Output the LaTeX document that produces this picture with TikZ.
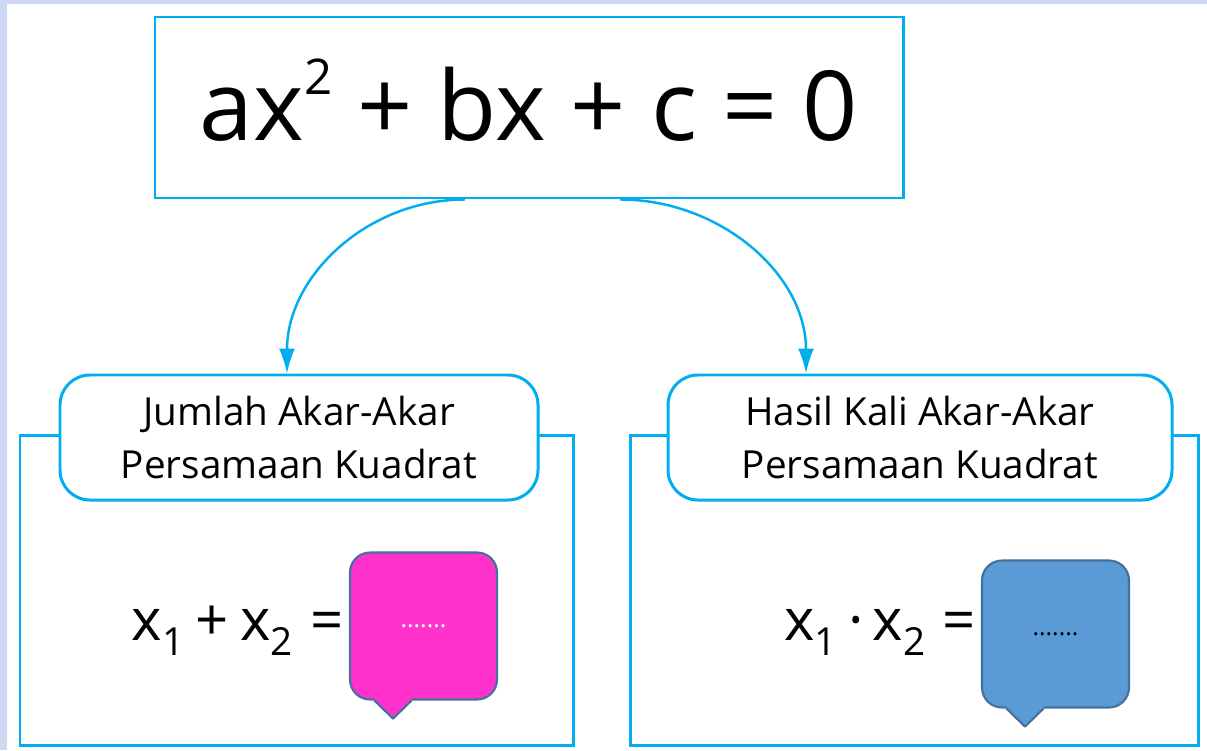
\documentclass[tikz,border=0pt]{standalone}
\usepackage{fontspec}
\setmainfont{Open Sans}
\usetikzlibrary{arrows.meta}

\definecolor{lineblue}{HTML}{00AEEF}
\definecolor{bgblue}{HTML}{CDD7F3}
\definecolor{callpink}{HTML}{FF33CC}
\definecolor{callblue}{HTML}{5B9BD5}
\definecolor{calledge}{HTML}{41719C}

\newcommand{\lowsub}[1]{\raisebox{-0.26em}{\fontsize{22}{22}\selectfont #1}}
\newcommand{\highsup}[1]{\raisebox{0.47em}{\fontsize{28}{28}\selectfont #1}}

\begin{document}
\begin{tikzpicture}[x = 0.2mm, y = -0.2mm,
	frame/.style = {draw = lineblue, line width = 1.7pt},
	link/.style = {-{Latex[length = 5mm, width = 3.2mm]}, lineblue, line width = 1.4pt},
	titlebox/.style = {frame, fill = white, rounded corners = 6mm, minimum height = 25mm, align = center, font = \fontsize{22}{30}\selectfont},
	callbox/.style = {draw = calledge, line width = 1.2pt, rounded corners = 4mm, minimum width = 29.4mm, minimum height = 29.4mm, font = \fontsize{14}{14}\selectfont},
	sumtext/.style = {anchor = base east, inner sep = 0pt, font = \fontsize{33}{36}\selectfont}]

	% Background
	
	\fill [bgblue] (0, 0) rectangle (1207, 750);
	\fill [white] (7, 4) rectangle (1207, 750);
	\useasboundingbox (0, 0) rectangle (1207, 750);
	
	% Panels
	
	\draw [frame] (20, 435) rectangle (573, 745);
	\draw [frame] (630, 435) rectangle (1198, 745);
	
	% Titles
	
	\node [titlebox, minimum width = 95.6mm] (sumtitle) at (299, 437.5) {Jumlah Akar-Akar\\Persamaan Kuadrat};
	\node [titlebox, minimum width = 100.8mm] (prodtitle) at (920, 437.5) {Hasil Kali Akar-Akar\\Persamaan Kuadrat};
	
	% Equation
	
	\node [frame, minimum width = 149.6mm, minimum height = 36.2mm, text depth = 3.2mm, font = \fontsize{55}{60}\selectfont] (eq) at (529, 107.5) {ax\highsup{2} + bx + c = 0};
	
	\draw [link] ([shift = {(-64, 0)}] eq.south) to [out = 180, in = 90] ([shift = {(-12, 0)}] sumtitle.north);
	\draw [link] ([shift = {(91, 0)}] eq.south) to [out = 0, in = 90] ([shift = {(-114, 0)}] prodtitle.north);
	
	% Callouts
	
	\node [callbox, fill = callpink, text = white] (sumval) at (423.5, 626) {.......};
	\node [callbox, fill = callblue, text = black] (prodval) at (1055.5, 634) {.......};
	
	\foreach \n/\col in {sumval/callpink, prodval/callblue}
	{
		\fill [\col] ([shift = {(-49, -3)}] \n.south) -- ([shift = {(-49, 0)}] \n.south) -- ([shift = {(-30.5, 18)}] \n.south) -- ([shift = {(-12, 0)}] \n.south) -- ([shift = {(-12, -3)}] \n.south) -- cycle;
		\draw [calledge, line width = 1.2pt, line join = round] ([shift = {(-49, 0)}] \n.south) -- ([shift = {(-30.5, 18)}] \n.south) -- ([shift = {(-12, 0)}] \n.south);
	}
	
	% Sum and product
	
	\node [sumtext] (sumeq) at (344, 640) {x\lowsub{1}\hspace{0.2em}+\hspace{0.2em}x\lowsub{2}\hspace{0.3em}=};
	\node [sumtext] (prodeq) at (976, 640) {x\lowsub{1}\hspace{0.2em}·\hspace{0.15em}x\lowsub{2}\hspace{0.3em}=};

\end{tikzpicture}
\end{document}
